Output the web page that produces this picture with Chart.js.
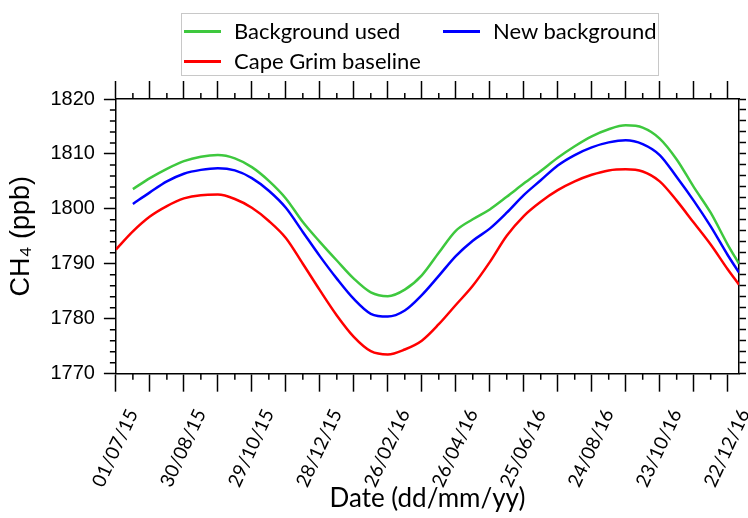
<!DOCTYPE html>
<html lang="en">
<head>
<meta charset="UTF-8">
<title>CH4 background</title>
<script src="https://cdn.jsdelivr.net/npm/chart.js"></script>
<style>
  body { margin: 0; background: #fff; }
  #wrap { position: relative; width: 748px; height: 518px; }
  #legend {
    position: absolute; left: 181px; top: 13px; width: 478px; height: 63px;
    border: 1px solid #c8c8c8; box-sizing: border-box;
    font-family: Lato, sans-serif; font-size: 22px; color: #000;
  }
  .item { position: absolute; display: flex; align-items: center; line-height: 1; white-space: nowrap; }
  .item .line { display: inline-block; width: 37px; height: 3px; margin-right: 13px; }
</style>
</head>
<body>
<div id="wrap">
  <canvas id="ch4Chart" width="748" height="518"></canvas>
  <div id="legend"></div>
</div>

<script>
// days since 01/07/15
const days = [0, 15, 30, 45, 60, 75, 90, 105, 120, 135, 150, 165, 180, 195, 210, 225, 240, 255,
              270, 285, 300, 315, 330, 345, 360, 375, 390, 405, 420, 435, 450, 465, 480, 495, 510, 525, 540, 550];

const backgroundUsed = [null, 1803.6, 1805.6, 1807.3, 1808.7, 1809.5, 1809.8, 1809.2, 1807.6, 1805.1, 1801.9, 1797.6,
                        1794.0, 1790.6, 1787.3, 1784.8, 1784.1, 1785.3, 1787.9, 1792.0, 1796.0, 1798.1, 1799.9, 1802.2,
                        1804.6, 1806.9, 1809.3, 1811.4, 1813.2, 1814.5, 1815.2, 1814.8, 1812.8, 1809.0, 1804.0, 1799.3,
                        1793.5, 1790.0];

const newBackground = [null, 1800.9, 1803.0, 1805.0, 1806.4, 1807.1, 1807.4, 1807.0, 1805.6, 1803.3, 1800.2, 1795.8,
                       1791.4, 1787.3, 1783.6, 1780.9, 1780.4, 1781.5, 1784.3, 1787.8, 1791.4, 1794.2, 1796.4, 1799.3,
                       1802.5, 1805.2, 1807.9, 1809.8, 1811.2, 1812.1, 1812.5, 1811.8, 1809.8, 1805.8, 1801.5, 1796.8,
                       1791.6, 1788.4];

const capeGrim = [1792.6, 1795.9, 1798.6, 1800.5, 1801.9, 1802.5, 1802.6, 1801.8, 1800.2, 1797.8, 1794.7, 1790.0,
                  1785.2, 1780.6, 1776.7, 1774.1, 1773.5, 1774.4, 1776.0, 1779.0, 1782.5, 1786.0, 1790.3, 1795.1,
                  1798.7, 1801.3, 1803.4, 1805.0, 1806.2, 1807.0, 1807.2, 1806.8, 1805.0, 1801.5, 1797.5, 1793.5,
                  1789.0, 1786.2];

const xTickDays = [0, 60, 120, 180, 240, 300, 360, 420, 480, 540];
const xTickLabels = ['01/07/15', '30/08/15', '29/10/15', '28/12/15', '26/02/16',
                     '26/04/16', '25/06/16', '24/08/16', '23/10/16', '22/12/16'];

function toPoints(values) {
    return days.map((d, i) => ({ x: d, y: values[i] })).filter(p => p.y !== null);
}

// ticks every 30 days on both horizontal axes
function monthTicks(axis) {
    const t = [];
    for (let d = 0; d <= 540; d += 30) t.push({ value: d });
    axis.ticks = t;
}

// short ticks between the long ones
const minorTicks = {
    id: 'minorTicks',
    afterDraw(chart) {
        const { ctx, chartArea: a } = chart;
        const x = chart.scales.x, y = chart.scales.y;
        ctx.save();
        ctx.strokeStyle = '#000';
        ctx.lineWidth = 1.5;
        ctx.beginPath();
        for (let d = 15; d < 550; d += 30) {
            const px = x.getPixelForValue(d);
            ctx.moveTo(px, a.bottom); ctx.lineTo(px, a.bottom + 6);
            ctx.moveTo(px, a.top); ctx.lineTo(px, a.top - 6);
        }
        for (let v = 1772; v < 1820; v += 2) {
            if (v % 10 === 0) continue;
            const py = y.getPixelForValue(v);
            ctx.moveTo(a.left, py); ctx.lineTo(a.left - 6, py);
        }
        ctx.stroke();
        ctx.restore();
    }
};

const axisGrid = { drawOnChartArea: false, tickColor: '#000', tickWidth: 1.5 };
const axisBorder = { color: '#000', width: 1.5 };

const datasets = [
    { label: 'Background used', data: toPoints(backgroundUsed), borderColor: '#3ec83e' },
    { label: 'New background', data: toPoints(newBackground), borderColor: '#0000ff' },
    { label: 'Cape Grim baseline', data: toPoints(capeGrim), borderColor: '#ff0000' }
];

const ctx = document.getElementById('ch4Chart').getContext('2d');
new Chart(ctx, {
    type: 'line',
    data: { datasets: datasets },
    options: {
        responsive: false,
        animation: false,
        layout: { padding: { left: 5, right: 2, top: 81, bottom: 0 } },
        plugins: { legend: { display: false }, tooltip: { enabled: false } },
        elements: {
            point: { radius: 0 },
            line: { borderWidth: 2.5, cubicInterpolationMode: 'monotone' }
        },
        scales: {
            x: {
                type: 'linear', position: 'bottom', min: 0, max: 550,
                afterBuildTicks: monthTicks,
                // rotated labels would otherwise push the plot in from the right
                afterFit: s => { s.paddingRight = 0; s.paddingLeft = 0; },
                ticks: {
                    autoSkip: false, minRotation: 65, maxRotation: 65, labelOffset: 17, padding: 14,
                    color: '#000', font: { family: 'Lato', size: 19 },
                    callback: v => {
                        const i = xTickDays.indexOf(v);
                        return i >= 0 ? xTickLabels[i] : '';
                    }
                },
                grid: Object.assign({ tickLength: 18 }, axisGrid),
                border: axisBorder,
                title: { display: true, text: 'Date (dd/mm/yy)', color: '#000',
                         font: { family: 'Lato', size: 26 }, padding: { top: -22, bottom: 4 } }
            },
            x2: {
                type: 'linear', position: 'top', min: 0, max: 550,
                afterBuildTicks: monthTicks,
                ticks: { display: false },
                grid: Object.assign({ tickLength: 18 }, axisGrid),
                border: axisBorder
            },
            y: {
                min: 1770, max: 1820,
                ticks: { stepSize: 10, padding: 9, color: '#000', font: { family: 'Liberation Sans', size: 20 },
                         callback: v => String(v) },
                grid: Object.assign({ tickLength: 12 }, axisGrid),
                border: axisBorder,
                title: { display: true, text: 'CH\u2084 (ppb)', color: '#000',
                         font: { family: 'Liberation Sans', size: 27 }, padding: { top: 0, bottom: 4 } }
            },
            y2: {
                position: 'right', min: 1770, max: 1820,
                ticks: { display: false, stepSize: 2 },
                grid: Object.assign({ tickLength: 7 }, axisGrid),
                border: axisBorder
            }
        }
    },
    plugins: [minorTicks]
});

// legend box, two columns
const legendPos = [
    { left: 2, top: 17 },
    { left: 261, top: 17 },
    { left: 2, top: 47 }
];
const legend = document.getElementById('legend');
datasets.forEach((ds, i) => {
    const item = document.createElement('div');
    item.className = 'item';
    item.style.left = legendPos[i].left + 'px';
    item.style.top = (legendPos[i].top - 11) + 'px';
    item.innerHTML = '<span class="line" style="background:' + ds.borderColor + '"></span><span>' + ds.label + '</span>';
    legend.appendChild(item);
});
</script>
</body>
</html>
